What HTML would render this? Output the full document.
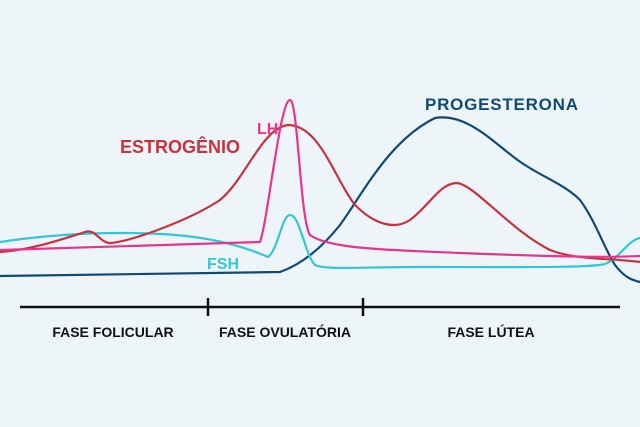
<!DOCTYPE html>
<html><head><meta charset="utf-8"><style>
html,body{margin:0;padding:0;background:#eef5f9;}
svg{display:block}
text{font-family:"Liberation Sans",sans-serif;font-weight:bold;}
</style></head><body>
<svg width="640" height="427" viewBox="0 0 640 427">
<rect width="640" height="427" fill="#eef5f9"/>
<g fill="none" stroke-width="2.2" stroke-linecap="round" stroke-linejoin="round">
<path stroke="#0f4a73" d="M0,276 L280,272 C300,265 320,250 340,225 C365,190 390,140 435,118 C470,112 500,150 525,165 C545,178 565,185 580,200 C595,220 605,250 615,265 C625,278 632,280 640,282"/>
<path stroke="#35c6d6" d="M0,242 C40,236 80,233 120,233 C170,233 220,236 268,257 C278,250 282,215 290,215 C300,215 305,255 315,265 C325,270 360,267 420,267 C520,267 590,268 605,264 C620,258 628,240 640,238"/>
<path stroke="#c8323f" d="M0,252 C30,250 60,240 85,232 C95,228 100,243 110,243 C130,242 190,220 220,200 C245,180 262,128 288,125 C320,125 335,180 355,205 C375,225 395,230 410,220 C430,205 440,183 457,183 C475,185 510,230 550,250 C575,260 610,258 640,262"/>
<path stroke="#e8348c" d="M0,250 L260,242 C268,220 280,100 290,100 C298,100 300,220 310,235 C330,250 400,250 460,253 C540,256 600,258 640,256"/>
</g>
<text x="120" y="153" font-size="18" fill="#c8323f" textLength="120">ESTROGÊNIO</text>
<text x="257" y="134" font-size="16" fill="#e8348c">LH</text>
<text x="425" y="110" font-size="17" fill="#0f4a73" textLength="153">PROGESTERONA</text>
<text x="207" y="269" font-size="16" fill="#35c6d6">FSH</text>
<g stroke="#111" stroke-width="2.5">
<line x1="20" y1="307" x2="620" y2="307"/>
<line x1="208" y1="298" x2="208" y2="316"/>
<line x1="363" y1="298" x2="363" y2="316"/>
</g>
<g font-size="14" fill="#111" text-anchor="middle">
<text x="113" y="337">FASE FOLICULAR</text>
<text x="285" y="337">FASE OVULATÓRIA</text>
<text x="491" y="337">FASE LÚTEA</text>
</g>
</svg>
</body></html>
